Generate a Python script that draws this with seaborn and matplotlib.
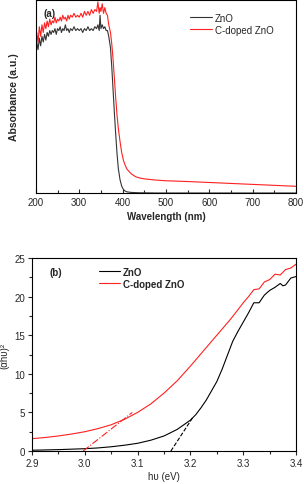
"""
UV-vis absorbance and Tauc plot for ZnO vs C-doped ZnO.
"""

import pandas as pd
import seaborn as sns
import matplotlib.pyplot as plt
from matplotlib.ticker import MultipleLocator

# -------------------------------------------------- DATA -------------------------------------------------- #

# (a) absorbance, noisy plateau part
wl_plateau = [200, 202, 205, 208, 211, 214, 217, 220, 223, 226, 229, 232, 235, 238, 241, 244, 247, 250,
              253, 256, 259, 262, 265, 268, 271, 274, 277, 280, 284, 288, 292, 296, 300, 304, 308, 312,
              316, 320, 324, 328, 332, 336, 340, 343, 346, 348, 350, 353, 356, 359, 362, 365, 368]
zno_plateau = [0.66, 0.79, 0.75, 0.81, 0.77, 0.82, 0.79, 0.83, 0.80, 0.84, 0.82, 0.85, 0.83, 0.85, 0.84,
               0.86, 0.83, 0.86, 0.85, 0.87, 0.84, 0.86, 0.85, 0.88, 0.85, 0.86, 0.84, 0.86, 0.85, 0.87,
               0.85, 0.86, 0.85, 0.86, 0.84, 0.86, 0.85, 0.87, 0.85, 0.86, 0.85, 0.87, 0.86, 0.88, 0.85,
               0.93, 0.86, 0.88, 0.86, 0.87, 0.85, 0.85, 0.82]
cdoped_plateau = [0.64, 0.84, 0.79, 0.87, 0.82, 0.88, 0.84, 0.89, 0.86, 0.90, 0.87, 0.91, 0.88, 0.90, 0.89,
                  0.92, 0.89, 0.91, 0.90, 0.92, 0.90, 0.93, 0.91, 0.92, 0.90, 0.93, 0.91, 0.93, 0.92, 0.94,
                  0.92, 0.93, 0.92, 0.94, 0.92, 0.95, 0.93, 0.95, 0.93, 0.96, 0.94, 0.96, 0.95, 1.00, 0.94,
                  0.97, 0.95, 0.99, 0.94, 0.97, 0.94, 0.93, 0.88]

# (a) absorption edge and tail
wl_tail = [372, 375, 378, 381, 384, 387, 390, 394, 398, 402, 406, 410, 420, 430, 440, 450, 475, 500,
           550, 600, 650, 700, 750, 800]
zno_tail = [0.76, 0.66, 0.54, 0.42, 0.31, 0.21, 0.13, 0.07, 0.035, 0.018, 0.010, 0.006, 0.003, 0.002,
            0.001, 0.001, 0.0, 0.0, 0.0, 0.0, 0.0, 0.0, 0.0, 0.0]
cdoped_tail = [0.84, 0.78, 0.70, 0.60, 0.50, 0.41, 0.34, 0.27, 0.21, 0.17, 0.145, 0.125, 0.10, 0.085,
               0.078, 0.074, 0.068, 0.064, 0.060, 0.055, 0.050, 0.045, 0.040, 0.035]

# (b) Tauc plot
hv_zno = [2.90, 2.95, 3.00, 3.025, 3.05, 3.075, 3.10, 3.125, 3.15, 3.175, 3.20, 3.21, 3.22, 3.23, 3.24,
          3.25, 3.26, 3.27, 3.28, 3.29, 3.30, 3.31, 3.32, 3.33, 3.34, 3.35, 3.36, 3.37, 3.375, 3.38,
          3.39, 3.40]
zno_tauc = [0.1, 0.18, 0.3, 0.4, 0.55, 0.75, 1.0, 1.4, 1.95, 2.8, 4.0, 4.7, 5.6, 6.6, 7.8, 9.0, 10.6,
            12.4, 14.2, 15.5, 16.7, 17.9, 19.2, 19.2, 20.2, 20.8, 21.2, 21.7, 21.4, 21.5, 22.4, 22.6]
hv_cdoped = [2.90, 2.925, 2.95, 2.975, 3.00, 3.025, 3.05, 3.075, 3.10, 3.125, 3.15, 3.175, 3.20, 3.225,
             3.25, 3.275, 3.29, 3.30, 3.31, 3.32, 3.33, 3.34, 3.35, 3.36, 3.37, 3.38, 3.39, 3.40]
cdoped_tauc = [1.6, 1.75, 1.95, 2.2, 2.5, 2.9, 3.4, 4.1, 5.0, 6.1, 7.5, 9.1, 11.0, 13.0, 15.0, 17.0,
               18.3, 19.2, 20.0, 20.9, 21.0, 21.9, 22.2, 22.9, 22.8, 23.5, 23.7, 24.2]

# tangent (band gap) extrapolations
zno_fit_x = [3.163, 3.205]
zno_fit_y = [0.0, 4.4]
cdoped_fit_x = [2.997, 3.09]
cdoped_fit_y = [0.0, 5.0]

# -------------------------------------------------- PLOT -------------------------------------------------- #

sns.set_theme(style="ticks")
plt.rcParams['font.family'] = ['Liberation Sans', 'DejaVu Sans']
plt.rcParams['font.size'] = 7

abs_df = pd.concat([
    pd.DataFrame({'wl': wl_plateau + wl_tail, 'abs': zno_plateau + zno_tail, 'sample': 'ZnO'}),
    pd.DataFrame({'wl': wl_plateau + wl_tail, 'abs': cdoped_plateau + cdoped_tail, 'sample': 'C-doped ZnO'}),
])
tauc_df = pd.concat([
    pd.DataFrame({'hv': hv_zno, 'y': zno_tauc, 'sample': 'ZnO'}),
    pd.DataFrame({'hv': hv_cdoped, 'y': cdoped_tauc, 'sample': 'C-doped ZnO'}),
])

fig = plt.figure(figsize=(3.04, 4.85), dpi=100)
ax1 = fig.add_axes([0.118, 0.600, 0.856, 0.398])
ax2 = fig.add_axes([0.105, 0.068, 0.869, 0.398])

# (a)
sns.lineplot(data=abs_df, x='wl', y='abs', hue='sample', palette={'ZnO': '#333333', 'C-doped ZnO': '#ff2020'},
             estimator=None, lw=0.8, ax=ax1)
ax1.set_xlim(200, 800)
ax1.set_ylim(0, 1.01)
ax1.set_yticks([])
ax1.xaxis.set_major_locator(MultipleLocator(100))
ax1.xaxis.set_minor_locator(MultipleLocator(50))
ax1.tick_params(axis='x', which='both', direction='in', labelsize=7, width=0.8, pad=3)
ax1.tick_params(axis='x', which='major', length=3)
ax1.tick_params(axis='x', which='minor', length=2)
ax1.set_xlabel('Wavelength (nm)', fontsize=7, fontweight='bold', labelpad=3)
ax1.set_ylabel('Absorbance (a.u.)', fontsize=7.5, fontweight='bold')
ax1.yaxis.set_label_coords(-0.065, 0.5)
ax1.text(0.03, 0.96, '(a)', transform=ax1.transAxes, fontsize=7, fontweight='bold', va='top')
ax1.legend(loc='upper left', bbox_to_anchor=(0.56, 0.98), frameon=False, fontsize=7,
           handlelength=2.2, handletextpad=0.3, labelspacing=0.2, title=None)

# (b)
sns.lineplot(data=tauc_df, x='hv', y='y', hue='sample', palette={'ZnO': 'black', 'C-doped ZnO': '#ff2020'},
             estimator=None, lw=0.8, ax=ax2)
ax2.plot(zno_fit_x, zno_fit_y, color='black', ls='--', lw=0.8)
ax2.plot(cdoped_fit_x, cdoped_fit_y, color='#ff2020', ls='-.', lw=0.8)
ax2.set_xlim(2.9, 3.4)
ax2.set_ylim(0, 25)
ax2.xaxis.set_major_locator(MultipleLocator(0.1))
ax2.xaxis.set_minor_locator(MultipleLocator(0.05))
ax2.yaxis.set_major_locator(MultipleLocator(5))
ax2.yaxis.set_minor_locator(MultipleLocator(2.5))
ax2.tick_params(which='both', direction='out', labelsize=7, width=0.8, pad=2)
ax2.tick_params(which='major', length=3)
ax2.tick_params(which='minor', length=2)
ax2.set_xlabel('hυ (eV)', fontsize=7, labelpad=2)
ax2.set_ylabel('(αhυ)²', fontsize=7)
ax2.yaxis.set_label_coords(-0.085, 0.5)
ax2.text(0.065, 0.955, '(b)', transform=ax2.transAxes, fontsize=7, fontweight='bold', va='top')
leg = ax2.legend(loc='upper left', bbox_to_anchor=(0.22, 1.0), frameon=False, fontsize=7,
                 handlelength=2.2, handletextpad=0.3, labelspacing=0.2, title=None)
for t in leg.get_texts():
    t.set_fontweight('bold')

for ax in (ax1, ax2):
    for s in ax.spines.values():
        s.set_linewidth(0.8)
        s.set_color('black')

plt.savefig('out.png', dpi=100)
